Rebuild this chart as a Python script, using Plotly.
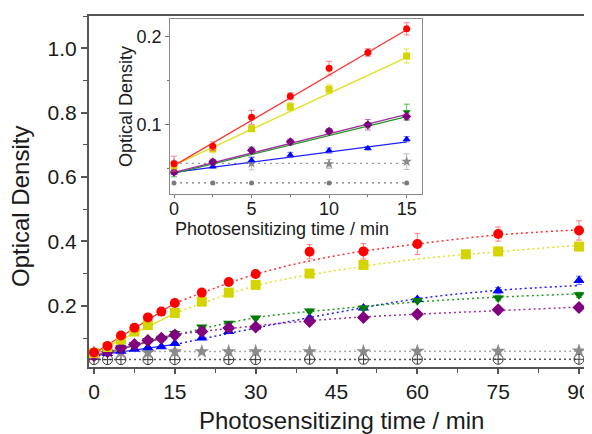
import plotly.graph_objects as go

# ---------------- data ----------------
t_all = [0, 2.5, 5, 7.5, 10, 12.5, 15, 20, 25, 30, 40, 50, 60, 75, 90]

red_y = [0.055, 0.075, 0.108, 0.132, 0.164, 0.182, 0.209, 0.241, 0.274, 0.299, 0.368, 0.369, 0.392, 0.423, 0.434]
red_err = [0.0086, 0.005, 0.008, 0.004, 0.008, 0.0044, 0.007, 0.004, 0.004, 0.004, 0.022, 0.024, 0.033, 0.022, 0.030]

t_yellow = [0, 2.5, 5, 7.5, 10, 15, 20, 25, 30, 40, 50, 69, 75, 90]
yellow_y = [0.053, 0.072, 0.095, 0.120, 0.140, 0.178, 0.213, 0.241, 0.265, 0.300, 0.327, 0.360, 0.369, 0.384]
yellow_err = [0.004, 0.0045, 0.003, 0.0045, 0.005, 0.008, 0.003, 0.003, 0.003, 0.004, 0.006, 0.004, 0.004, 0.006]

green_y = [0.044, 0.057, 0.070, 0.0795, 0.092, 0.099, 0.114, 0.134, 0.146, 0.162, 0.184, 0.193, 0.216, 0.224, 0.234]
green_err = [0.004, 0.003, 0.004, 0.003, 0.003, 0.003, 0.009, 0.004, 0.004, 0.005, 0.006, 0.006, 0.006, 0.008, 0.008]

blue_y = [0.045, 0.0517, 0.059, 0.065, 0.070, 0.0726, 0.083, 0.100, 0.120, 0.134, 0.162, 0.193, 0.220, 0.247, 0.279]
blue_err = [0.002, 0.002, 0.003, 0.003, 0.003, 0.002, 0.003, 0.003, 0.004, 0.004, 0.006, 0.006, 0.006, 0.010, 0.013]

purple_y = [0.0456, 0.057, 0.070, 0.080, 0.092, 0.0995, 0.109, 0.120, 0.131, 0.134, 0.151, 0.164, 0.174, 0.188, 0.195]
purple_err = [0.003, 0.003, 0.003, 0.003, 0.003, 0.006, 0.004, 0.004, 0.004, 0.004, 0.006, 0.006, 0.008, 0.010, 0.006]

t_star = [0, 5, 10, 15, 20, 25, 30, 40, 50, 60, 75, 90]
star_y = [0.0555, 0.0555, 0.0547, 0.0574, 0.058, 0.058, 0.058, 0.058, 0.058, 0.059, 0.059, 0.060]
star_err = [0.003, 0.0075, 0.005, 0.009, 0.003, 0.003, 0.003, 0.003, 0.003, 0.003, 0.003, 0.003]

t_ctrl = [0, 2.5, 5, 10, 15, 25, 30, 40, 50, 60, 75, 90]
ctrl_y = [0.033, 0.033, 0.033, 0.033, 0.033, 0.033, 0.033, 0.034, 0.034, 0.034, 0.034, 0.034]

# linear fits (0-15 min), read at the end points
t_lin = [0, 15]
red_lin = [0.0528, 0.208]
yellow_lin = [0.053, 0.1765]
green_lin = [0.044, 0.1087]
purple_lin = [0.045, 0.1114]
blue_lin = [0.045, 0.080]
star_lin = [0.0553, 0.0553]
ctrl_lin = [0.033, 0.033]

# saturation fit curves (15-90 min)
t_fit = [15, 30, 45, 60, 75, 90]
red_fit = [0.208, 0.298, 0.356, 0.392, 0.420, 0.436]
yellow_fit = [0.1765, 0.262, 0.310, 0.345, 0.368, 0.388]
green_fit = [0.1087, 0.163, 0.190, 0.212, 0.227, 0.237]
blue_fit = [0.080, 0.131, 0.179, 0.222, 0.248, 0.263]
purple_fit = [0.1114, 0.138, 0.160, 0.174, 0.185, 0.196]
t_flat = [0, 90]
star_fit = [0.058, 0.059]
ctrl_fit = [0.033, 0.034]

FONT = "Liberation Sans, Arial, sans-serif"
TXT = "#1a1a1a"

series = [
    # name, x, y, err, symbol, color, errcolor, lin, fit
    ("ctrl", t_ctrl, ctrl_y, None, "circle-cross-open", "#3a3a3a", "#3a3a3a", ctrl_lin, ctrl_fit),
    ("star", t_star, star_y, star_err, "star", "#8a8a8a", "rgba(150,150,150,0.6)", star_lin, star_fit),
    ("blue", t_all, blue_y, blue_err, "triangle-up", "#0000ff", "rgba(60,60,255,0.7)", blue_lin, blue_fit),
    ("green", t_all, green_y, green_err, "triangle-down", "#007a00", "rgba(40,170,40,0.8)", green_lin, green_fit),
    ("purple", t_all, purple_y, purple_err, "diamond", "#800080", "rgba(160,60,160,0.7)", purple_lin, purple_fit),
    ("yellow", t_yellow, yellow_y, yellow_err, "square", "#d4d400", "rgba(220,220,40,0.8)", yellow_lin, yellow_fit),
    ("red", t_all, red_y, red_err, "circle", "#ff0000", "rgba(255,90,90,0.75)", red_lin, red_fit),
]

line_col = {"ctrl": "#555555", "star": "#aaaaaa", "blue": "#2020ff", "green": "#229922",
            "purple": "#a030a0", "yellow": "#e0e020", "red": "#ff3030"}

fig = go.Figure()

# ---------------- main plot ----------------
for name, xs, ys, err, sym, col, ecol, lin, fit in series:
    lc = line_col[name]
    if name in ("ctrl", "star"):
        fig.add_trace(go.Scatter(x=t_flat, y=fit, mode="lines",
                                 line=dict(color=lc, width=1.5, dash="2px,3px"),
                                 showlegend=False, hoverinfo="skip"))
    else:
        fig.add_trace(go.Scatter(x=t_lin, y=lin, mode="lines",
                                 line=dict(color=lc, width=1.3),
                                 showlegend=False, hoverinfo="skip"))
        fig.add_trace(go.Scatter(x=t_fit, y=fit, mode="lines", line_shape="spline",
                                 line=dict(color=lc, width=1.5, dash="2px,3px"),
                                 showlegend=False, hoverinfo="skip"))
for name, xs, ys, err, sym, col, ecol, lin, fit in series:
    if name == "ctrl":
        marker = dict(symbol=sym, size=10, color=col, line=dict(color=col, width=1))
    else:
        marker = dict(symbol=sym, size=10 if name != "star" else 11, color=col, line=dict(width=0))
    ey = dict(type="data", array=err, color=ecol, thickness=1, width=3) if err else None
    fig.add_trace(go.Scatter(x=xs, y=ys, mode="markers", marker=marker, error_y=ey,
                             showlegend=False))

# ---------------- inset ----------------
def inset_sel(xs, ys, err):
    return [(x, y, (err[i] if err else None)) for i, (x, y) in enumerate(zip(xs, ys)) if x <= 15]

for name, xs, ys, err, sym, col, ecol, lin, fit in series:
    lc = line_col[name]
    if name in ("ctrl", "star"):
        fig.add_trace(go.Scatter(x=t_lin, y=lin, mode="lines", xaxis="x2", yaxis="y2",
                                 line=dict(color="#999999" if name == "star" else "#777777", width=1.3, dash="2px,4px"),
                                 showlegend=False, hoverinfo="skip"))
    else:
        fig.add_trace(go.Scatter(x=t_lin, y=lin, mode="lines", xaxis="x2", yaxis="y2",
                                 line=dict(color=lc, width=1.3),
                                 showlegend=False, hoverinfo="skip"))
for name, xs, ys, err, sym, col, ecol, lin, fit in series:
    pts = inset_sel(xs, ys, err)
    px_ = [p[0] for p in pts]
    py_ = [p[1] for p in pts]
    pe_ = [p[2] for p in pts]
    if name == "ctrl":
        marker = dict(symbol="circle", size=5, color="#7a7a7a")
        ey = None
    else:
        marker = dict(symbol=sym, size=7 if name != "star" else 8, color=col, line=dict(width=0))
        ey = dict(type="data", array=pe_, color=ecol, thickness=1, width=3)
    fig.add_trace(go.Scatter(x=px_, y=py_, mode="markers", xaxis="x2", yaxis="y2",
                             marker=marker, error_y=ey, showlegend=False))

# page geometry (the page body adds an 8 px offset)
OFF = 8
PAGE_W, PAGE_H = 592, 434
W, H = PAGE_W - OFF, PAGE_H - OFF
AX_L, AX_T, AX_B = 89, 16, 367          # page pixels of the main axes
L, T = AX_L - OFF, AX_T - OFF
B = H - (AX_B - OFF)
pw, ph = W - L, H - T - B

def px(x):
    return (x - OFF - L) / pw

def py(y):
    return (H - B - (y - OFF)) / ph

fig.update_layout(
    width=W, height=H, autosize=False,
    margin=dict(l=L, r=0, t=T, b=B, pad=0),
    paper_bgcolor="white", plot_bgcolor="white",
    font=dict(family=FONT, color=TXT),
    xaxis=dict(domain=[0, 1], range=[-0.93, 92.41], tickvals=[0, 15, 30, 45, 60, 75, 90],
               ticks="outside", ticklen=5, tickwidth=1.5, tickcolor="#555",
               showline=True, linecolor="#555", linewidth=2, mirror=True,
               showgrid=False, zeroline=False, tickfont=dict(size=21, color=TXT),
               automargin=False,
               minor=dict(ticks="outside", ticklen=3.5, tickwidth=1.2, tickcolor="#555",
                          tick0=0, dtick=7.5, showgrid=False)),
    yaxis=dict(domain=[0, 1], range=[0.01, 1.10], tick0=0, dtick=0.2, tickformat=".1f",
               ticks="outside", ticklen=6, tickwidth=1.5, tickcolor="#555",
               showline=True, linecolor="#555", linewidth=2, mirror=False,
               showgrid=False, zeroline=False, tickfont=dict(size=21, color=TXT),
               automargin=False,
               minor=dict(ticks="outside", ticklen=4, tickwidth=1.2, tickcolor="#555",
                          tick0=0, dtick=0.1, showgrid=False)),
    xaxis2=dict(domain=[px(170.3), px(421.7)], anchor="y2", range=[-0.24, 15.97],
                tick0=0, dtick=5, ticks="outside", ticklen=3, tickwidth=1, tickcolor="#777",
                ticklabelstandoff=-5,
                showline=True, linecolor="#888", linewidth=1.2, mirror=True,
                showgrid=False, zeroline=False, tickfont=dict(size=18, color=TXT),
                minor=dict(ticks="outside", ticklen=2, tick0=0, dtick=2.5, tickcolor="#777")),
    yaxis2=dict(domain=[py(194), py(19.3)], anchor="x2", range=[0.0204, 0.2199],
                tickvals=[0.1, 0.2], ticktext=["0.1", "0.2"], ticks="outside", ticklen=4,
                tickwidth=1, tickcolor="#777",
                showline=True, linecolor="#888", linewidth=1.2, mirror=True,
                showgrid=False, zeroline=False, tickfont=dict(size=18, color=TXT),
                minor=dict(ticks="outside", ticklen=2.5, tick0=0, dtick=0.05, tickcolor="#777")),
    annotations=[
        dict(text="Optical Density", xref="paper", yref="paper", x=px(20), y=py(207),
             textangle=-90, showarrow=False, font=dict(size=24, family=FONT, color=TXT),
             xanchor="center", yanchor="middle"),
        dict(text="Photosensitizing time / min", xref="paper", yref="paper", x=px(341), y=py(421),
             showarrow=False, font=dict(size=24, family=FONT, color=TXT),
             xanchor="center", yanchor="middle"),
        dict(text="Optical Density", xref="paper", yref="paper", x=px(126), y=py(107),
             textangle=-90, showarrow=False, font=dict(size=18, family=FONT, color=TXT),
             xanchor="center", yanchor="middle"),
        dict(text="Photosensitizing time / min", xref="paper", yref="paper", x=px(281.5), y=py(229),
             showarrow=False, font=dict(size=18, family=FONT, color=TXT),
             xanchor="center", yanchor="middle"),
    ],
)

fig.write_html("out.html")
